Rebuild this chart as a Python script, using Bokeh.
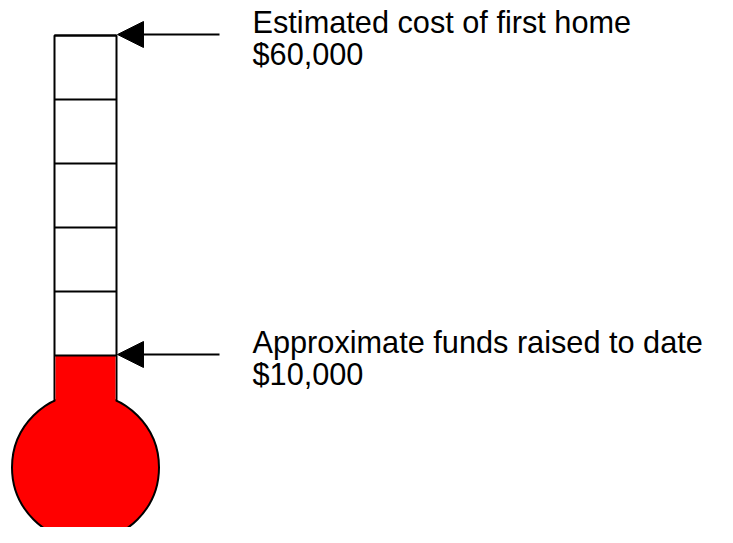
from bokeh.plotting import figure
from bokeh.models import Range1d, Arrow, NormalHead, ColumnDataSource
from bokeh.core.properties import value
from bokeh.embed import file_html
from bokeh.resources import INLINE

# ---- data ----
goal = 60000
raised = 10000
step = 10000
captions = ["Estimated cost of first home", "Approximate funds raised to date"]
amounts = [goal, raised]
amount_labels = [f"${v:,}" for v in amounts]
levels = list(range(raised, goal + step, step))

# ---- geometry (screen) ----
W, H = 717, 527
DPP = 50000 / 320.0          # dollars per pixel on the vertical scale
top_px = 35                   # pixels above goal level to top of plot
y_top = goal + top_px * DPP
y_bot = goal - (H - top_px) * DPP
bulb_y = goal - 432 * DPP

p = figure(width=W, height=H, output_backend="svg", toolbar_location=None,
           x_range=Range1d(0, W), y_range=Range1d(y_bot, y_top),
           x_axis_type=None, y_axis_type=None, min_border=0,
           background_fill_color="white", border_fill_color="white")
p.outline_line_color = None
p.grid.visible = False

tube_l, tube_r, tube_c = 54, 116, 85

# tube (white)
p.quad(left=[tube_l], right=[tube_r], bottom=[bulb_y], top=[goal],
       fill_color="white", line_color="black", line_width=2)
# bulb
p.scatter(x=[tube_c], y=[bulb_y], size=147, marker="circle",
          fill_color="#ff0000", line_color="black", line_width=2)
# mercury
p.quad(left=[tube_l + 1], right=[tube_r - 1], bottom=[bulb_y], top=[raised],
       fill_color="#ff0000", line_color=None)
# scale lines
p.segment(x0=[tube_l] * len(levels), x1=[tube_r] * len(levels),
          y0=levels, y1=levels, line_color="black", line_width=2)

# arrows
for v in amounts:
    p.add_layout(Arrow(end=NormalHead(size=26, fill_color="black", line_color="black"),
                       x_start=219, y_start=v + 1 * DPP, x_end=117, y_end=v + 1 * DPP,
                       line_color="black", line_width=2))

# labels
src1 = ColumnDataSource(dict(x=[252] * 2, y=[v + 13 * DPP for v in amounts], t=captions))
src2 = ColumnDataSource(dict(x=[252] * 2, y=[v - 19 * DPP for v in amounts], t=amount_labels))
for src in (src1, src2):
    p.text(x="x", y="y", text="t", source=src, text_font=value("Liberation Sans"),
           text_font_size="30.7px", text_color="black", text_baseline="alphabetic",
           text_align="left")

open("out.html", "w").write(file_html(p, INLINE))
